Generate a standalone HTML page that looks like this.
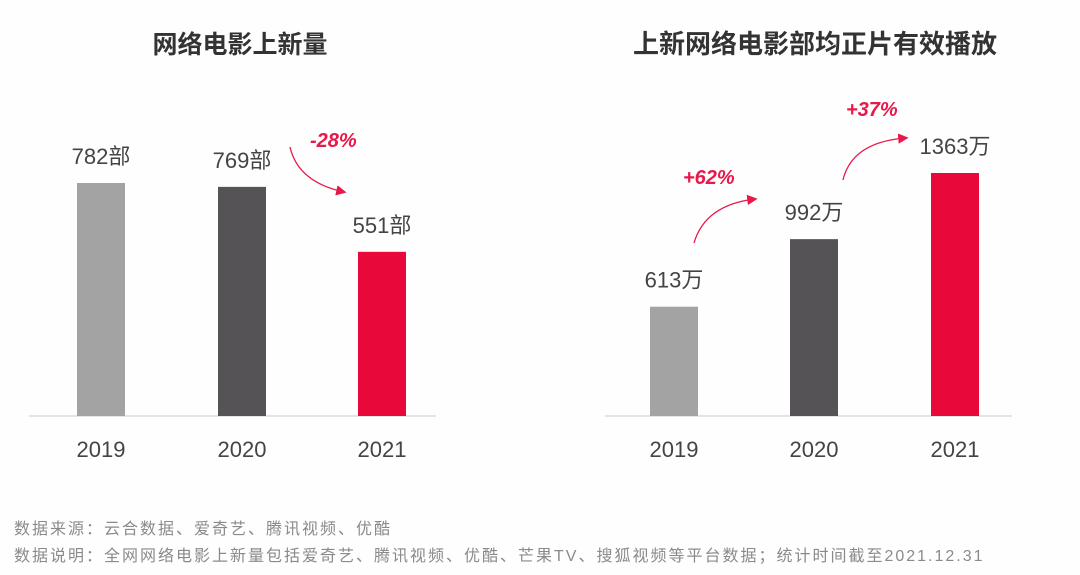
<!DOCTYPE html>
<html><head><meta charset="utf-8"><style>
body{margin:0;width:1080px;height:575px;background:#fefefe;overflow:hidden;font-family:"Liberation Sans","Noto Sans CJK SC",sans-serif}
svg{position:absolute;left:0;top:0}
.note{position:absolute;left:14px;font-size:16px;letter-spacing:2px;color:#8a8a8a;font-family:"Liberation Sans","Noto Sans CJK SC",sans-serif}
</style></head><body>
<svg id="c" width="1080" height="575">
<defs><marker id="ah" markerWidth="8" markerHeight="8" refX="6" refY="4" orient="auto"><path d="M0,0 L8,4 L0,8 Z" fill="#e8184a"/></marker></defs>
</svg>
<div class="note" style="top:515px">数据来源：云合数据、爱奇艺、腾讯视频、优酷</div>
<div class="note" style="top:542px">数据说明：全网网络电影上新量包括爱奇艺、腾讯视频、优酷、芒果TV、搜狐视频等平台数据；统计时间截至2021.12.31</div>
<script>
const years=["2019","2020","2021"];
const leftValues=[782,769,551];
const leftLabels=["782部","769部","551部"];
const rightValues=[613,992,1363];
const rightLabels=["613万","992万","1363万"];
const colors=["#a4a3a4","#555355","#e8083a"];
const NS="http://www.w3.org/2000/svg";
const svg=document.getElementById('c');
function mk(t,a,txt){const e=document.createElementNS(NS,t);for(const k in a)e.setAttribute(k,a[k]);if(txt!=null)e.textContent=txt;svg.appendChild(e);return e;}
const base=416;
function drawChart(prefix,title,tx,tsize,x0,x1,centers,vals,labels,pxPerUnit){
  const t=mk('text',{x:tx,y:53,'text-anchor':'middle','font-size':tsize,'font-weight':'bold',fill:'#333'},title);
  
  
  const ax=mk('line',{x1:x0,x2:x1,y1:base,y2:base,stroke:'#dcdcdc','stroke-width':1.5});
  
  
  vals.forEach((v,i)=>{
    const h=v*pxPerUnit;
    const r=mk('rect',{x:centers[i]-24,y:base-h,width:48,height:h,fill:colors[i]});
    
    
    const l=mk('text',{x:centers[i],y:base-h-19,'text-anchor':'middle','font-size':22,fill:'#444'},labels[i]);
    
    
    const y=mk('text',{x:centers[i],y:457,'text-anchor':'middle','font-size':22,fill:'#444'},years[i]);
    
    
  });
}
drawChart('left-chart','网络电影上新量',240,25,29,436,[101,242,382],leftValues,leftLabels,233/782);
drawChart('right-chart','上新网络电影部均正片有效播放',815,26,605,1012,[674,814,955],rightValues,rightLabels,243/1363);
function arrow(name,d,lx,ly,txt){
  const p=mk('path',{d:d,fill:'none',stroke:'#e8184a','stroke-width':1.3,'marker-end':'url(#ah)'});
  
  
  const t=mk('text',{x:lx,y:ly,'font-size':20,'font-weight':'bold','font-style':'italic',fill:'#e8184a'},txt);
  
  
}
arrow('change-2021-count','M290,147 Q298,182 344,192',310,147,'-28%');
arrow('change-2020-play','M694,243 Q705,205 755,199',683,184,'+62%');
arrow('change-2021-play','M843,180 Q852,142 906,138',846,116,'+37%');
</script>
</body></html>
